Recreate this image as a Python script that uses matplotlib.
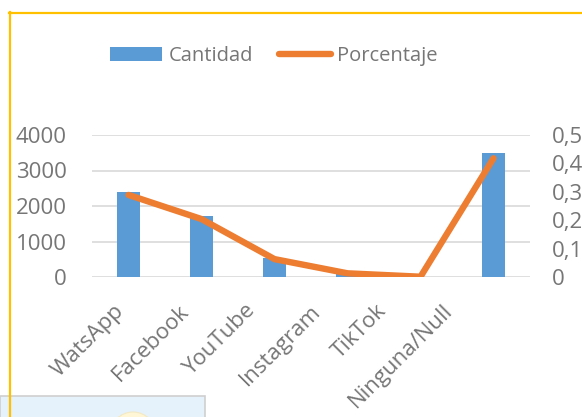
import matplotlib
matplotlib.use("Agg")
import matplotlib.pyplot as plt
from matplotlib.patches import Rectangle, Ellipse, Patch
from matplotlib.lines import Line2D

categories = ["WatsApp", "Facebook", "YouTube", "Instagram", "TikTok", "Ninguna/Null"]
cantidad = [2400, 1710, 535, 110, 10, 3480]
porcentaje = [0.289, 0.204, 0.063, 0.013, 0.001, 0.418]
left_ticks = [0, 1000, 2000, 3000, 4000]
right_ticks = [0, 0.1, 0.2, 0.3, 0.4, 0.5]
right_labels = ["0", "0,1", "0,2", "0,3", "0,4", "0,5"]

W, H = 582, 417
plt.rcParams['font.family'] = ['Open Sans', 'DejaVu Sans']
TXT = "#767676"
BLUE = "#5B9BD5"
ORANGE = "#ED7D31"

fig = plt.figure(figsize=(W / 100, H / 100), dpi=100)
fig.patch.set_facecolor("white")

def fx(x): return x / W
def fy(y): return 1 - y / H

ax = fig.add_axes([fx(92), fy(277), fx(530) - fx(92), fy(135) - fy(277)])
x = list(range(len(categories)))
ax.bar(x, cantidad, width=0.31, color=BLUE, zorder=2)
ax.set_xlim(-0.5, len(categories) - 0.5)
ax.set_ylim(0, 4000)
ax.set_yticks(left_ticks)
ax.set_yticklabels([str(v) for v in left_ticks])
ax.yaxis.grid(True, color="#D9D9D9", linewidth=1.2, zorder=0)
ax.set_axisbelow(True)
for s in ax.spines.values():
    s.set_visible(False)
ax.tick_params(axis='y', length=0, pad=18, labelsize=16, labelcolor=TXT)
ax.set_xticks(x)
ax.set_xticklabels([])
ax.tick_params(axis='x', length=0)

# category labels, laid out as in the reference (slightly compressed spacing)
for i, name in enumerate(categories):
    ax.text(i * 0.901 - 0.21, -0.165, name, transform=ax.get_xaxis_transform(),
            rotation=45, ha='right', va='top', rotation_mode='anchor',
            fontsize=16, color=TXT)

ax2 = ax.twinx()
ax2.plot(x, porcentaje, color=ORANGE, linewidth=4.6, solid_capstyle='round',
         solid_joinstyle='round', zorder=3)
ax2.set_ylim(0, 0.5)
ax2.set_yticks(right_ticks)
ax2.set_yticklabels(right_labels)
for s in ax2.spines.values():
    s.set_visible(False)
ax2.tick_params(axis='y', length=0, pad=16, labelsize=16, labelcolor=TXT)

handles = [Patch(facecolor=BLUE, edgecolor='none'),
           Line2D([0], [0], color=ORANGE, linewidth=4.6, solid_capstyle='round')]
leg = fig.legend(handles, ["Cantidad", "Porcentaje"], loc='center',
                 bbox_to_anchor=(fx(274), fy(56)), ncol=2, frameon=False,
                 fontsize=14.5, handlelength=2.6, handleheight=0.7,
                 handletextpad=0.3, columnspacing=1.3)
for t in leg.get_texts():
    t.set_color(TXT)

# overlapping element at bottom-left
fig.add_artist(Rectangle((fx(0), fy(430)), fx(205), fy(395.5) - fy(430),
                         transform=fig.transFigure, facecolor="#E5F1FB",
                         edgecolor="#CFCFCF", linewidth=1.2, zorder=5))
fig.add_artist(Ellipse((fx(133), fy(435)), fx(46), fy(0) - fy(46),
                       transform=fig.transFigure, facecolor="#FFF6D5",
                       edgecolor="#F3E9C4", linewidth=0.8, zorder=6))
# chart border (yellow)
fig.add_artist(Line2D([fx(10), fx(10)], [fy(12), fy(420)], transform=fig.transFigure,
                      color="#FFC000", linewidth=1.6, zorder=7))
fig.add_artist(Line2D([fx(9.4), fx(590)], [fy(12.5), fy(12.5)], transform=fig.transFigure,
                      color="#FFC000", linewidth=1.6, zorder=7))

fig.savefig("out.png", dpi=100)
